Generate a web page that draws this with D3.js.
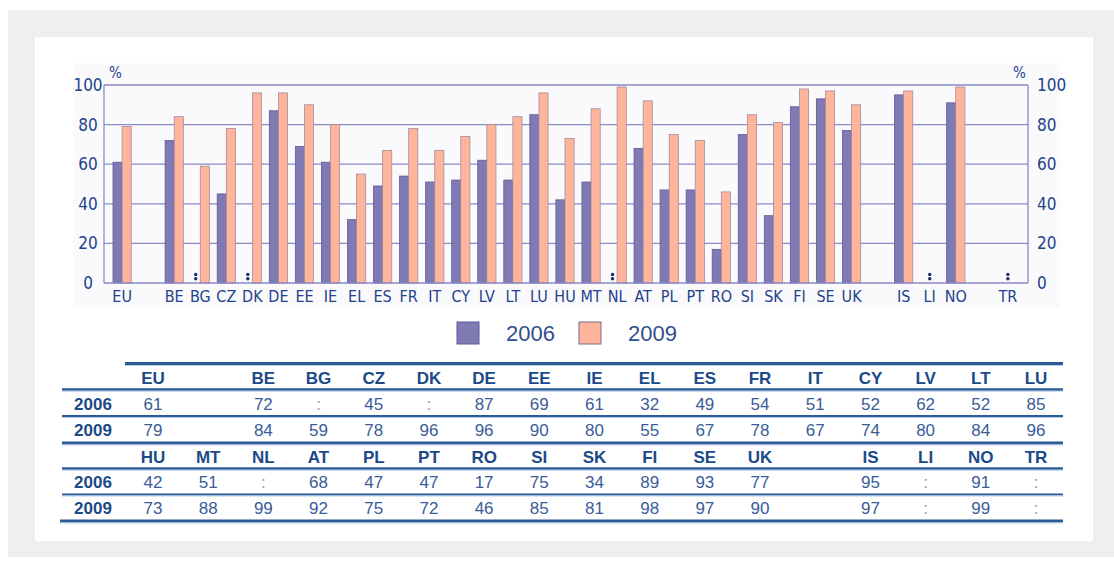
<!DOCTYPE html>
<html>
<head>
<meta charset="utf-8">
<script src="https://cdn.jsdelivr.net/npm/d3@7"></script>
<style>
  body { margin: 0; background: #fff; }
  svg { display: block; }
</style>
</head>
<body>
<script>
// countries in chart order
var categories = ["EU","BE","BG","CZ","DK","DE","EE","IE","EL","ES","FR","IT","CY","LV","LT","LU",
                  "HU","MT","NL","AT","PL","PT","RO","SI","SK","FI","SE","UK","IS","LI","NO","TR"];
// null = not available (":")
var values2006 = [61,72,null,45,null,87,69,61,32,49,54,51,52,62,52,85,
                  42,51,null,68,47,47,17,75,34,89,93,77,95,null,91,null];
var values2009 = [79,84,59,78,96,96,90,80,55,67,78,67,74,80,84,96,
                  73,88,99,92,75,72,46,85,81,98,97,90,97,null,99,null];
// an empty slot follows these in the chart
var gapsAfter = ["EU","UK","NO"];
var yTicks = [0,20,40,60,80,100];
var seriesNames = ["2006","2009"];
// table layout: two blocks of columns, "" = empty column
var tableRow1 = ["EU","","BE","BG","CZ","DK","DE","EE","IE","EL","ES","FR","IT","CY","LV","LT","LU"];
var tableRow2 = ["HU","MT","NL","AT","PL","PT","RO","SI","SK","FI","SE","UK","","IS","LI","NO","TR"];

var width = 1114, height = 565;
var purple = "#7f7ab4", salmon = "#ffb59b", navy = "#22428a", grid = "#8a8ac6";
var narrow = "'Liberation Sans Narrow', 'Arial Narrow', 'DejaVu Sans Condensed', sans-serif";
var arial = "'Liberation Sans', Arial, sans-serif";

var svg = d3.select("body").append("svg")
    .attr("width", width)
    .attr("height", height);

// frame
svg.append("rect").attr("x", 8).attr("y", 10).attr("width", 1106).attr("height", 547).attr("fill", "#efefef");
svg.append("rect").attr("x", 35).attr("y", 37).attr("width", 1058).attr("height", 504).attr("fill", "#fff");
svg.append("rect").attr("x", 73).attr("y", 63).attr("width", 987).attr("height", 245).attr("fill", "#fafafd");

// slots with gaps
var slots = [];
categories.forEach(function(c) {
  slots.push(c);
  if (gapsAfter.indexOf(c) >= 0) slots.push("gap_" + c);
});

var left = 104, right = 1028;
var x = d3.scaleBand()
    .domain(slots)
    .range([113, 1017])
    .paddingInner(0.3)
    .paddingOuter(0);
var xs = d3.scaleBand()
    .domain(seriesNames)
    .range([0, x.bandwidth()]);
var y = d3.scaleLinear()
    .domain([0, 100])
    .range([283, 85]);

var g = svg.append("g");

// gridlines
g.selectAll("line.grid")
    .data(yTicks.filter(function(d) { return d > 0; }))
  .enter().append("line")
    .attr("x1", left).attr("x2", right)
    .attr("y1", function(d) { return y(d); })
    .attr("y2", function(d) { return y(d); })
    .attr("stroke", grid)
    .attr("stroke-width", 1.3);

// bars
var rows = categories.map(function(c, i) {
  return {cat: c, v: [values2006[i], values2009[i]]};
});
var bars = [];
rows.forEach(function(r) {
  seriesNames.forEach(function(s, j) {
    if (r.v[j] != null) bars.push({cat: r.cat, s: s, v: r.v[j]});
  });
});
g.selectAll("rect.bar")
    .data(bars)
  .enter().append("rect")
    .attr("x", function(d) { return x(d.cat) + xs(d.s); })
    .attr("y", function(d) { return y(d.v); })
    .attr("width", xs.bandwidth())
    .attr("height", function(d) { return y(0) - y(d.v); })
    .attr("fill", function(d) { return d.s === "2006" ? purple : salmon; })
    .attr("stroke", function(d) { return d.s === "2006" ? "#5f5b98" : "#a58a9c"; })
    .attr("stroke-width", 0.8);

// ":" markers for missing values
var missing = [];
rows.forEach(function(r) {
  if (r.v[0] == null && r.v[1] == null) missing.push(x(r.cat) + x.bandwidth() / 2);
  else if (r.v[0] == null) missing.push(x(r.cat) + xs("2006") + xs.bandwidth() / 2);
});
missing.forEach(function(cx) {
  [274.5, 278.8].forEach(function(cy) {
    g.append("circle").attr("cx", cx).attr("cy", cy).attr("r", 1.7).attr("fill", "#1a2a66");
  });
});

// axes
var axisY = d3.axisLeft(y).tickValues(yTicks).tickSize(0).tickPadding(0);
var ay = g.append("g").attr("transform", "translate(" + left + ",0)").call(axisY);
ay.select(".domain").attr("stroke", grid).attr("stroke-width", 1.3).attr("d", "M0," + y(100) + "V" + y(0));
ay.selectAll("text").attr("x", -16).attr("text-anchor", "middle")
    .attr("font-family", narrow).attr("font-size", 17).attr("fill", navy);

var axisYR = d3.axisRight(y).tickValues(yTicks).tickSize(0).tickPadding(9);
var ayr = g.append("g").attr("transform", "translate(" + right + ",0)").call(axisYR);
ayr.select(".domain").attr("stroke", grid).attr("stroke-width", 1.3).attr("d", "M0," + y(100) + "V" + y(0));
ayr.selectAll("text").attr("font-family", narrow).attr("font-size", 17).attr("fill", navy);

g.append("line").attr("x1", left).attr("x2", right).attr("y1", y(0)).attr("y2", y(0))
    .attr("stroke", grid).attr("stroke-width", 1.3);

var axisX = d3.axisBottom(x).tickSize(0).tickPadding(8)
    .tickFormat(function(d) { return d.indexOf("gap_") === 0 ? "" : d; });
var ax = g.append("g").attr("transform", "translate(0," + y(0) + ")").call(axisX);
ax.select(".domain").remove();
ax.selectAll("text").attr("font-family", narrow).attr("font-size", 16).attr("fill", navy);

g.append("text").attr("x", 109).attr("y", 78).text("%")
    .attr("font-family", narrow).attr("font-size", 15).attr("fill", navy);
g.append("text").attr("x", 1013).attr("y", 78).text("%")
    .attr("font-family", narrow).attr("font-size", 15).attr("fill", navy);

// legend
var legendX = d3.scaleOrdinal().domain(seriesNames).range([457, 579]);
var lg = svg.append("g").selectAll("g").data(seriesNames).enter().append("g");
lg.append("rect")
    .attr("x", function(d) { return legendX(d); })
    .attr("y", 322).attr("width", 22).attr("height", 22)
    .attr("fill", function(d) { return d === "2006" ? purple : salmon; })
    .attr("stroke", function(d) { return d === "2006" ? "#5f5b98" : "#7d6a88"; })
    .attr("stroke-width", 1);
lg.append("text")
    .attr("x", function(d) { return legendX(d) + 49; })
    .attr("y", 341)
    .text(function(d) { return d; })
    .attr("font-family", arial).attr("font-size", 22).attr("fill", "#2f4f8c");

// table
var t = svg.append("g");
var col = d3.scalePoint().domain(d3.range(17)).range([153, 1036]);
var lineC = "#2b5a97";
function hline(x1, yy, w) {
  t.append("line").attr("x1", x1).attr("x2", 1063).attr("y1", yy).attr("y2", yy)
      .attr("stroke", lineC).attr("stroke-width", w);
  t.append("line").attr("x1", x1).attr("x2", 1063).attr("y1", yy + w / 2 + 0.5).attr("y2", yy + w / 2 + 0.5)
      .attr("stroke", "#b9cfe6").attr("stroke-width", 1);
}
function block(names, top, yHead, y6, y9) {
  names.forEach(function(c, i) {
    if (!c) return;
    var k = categories.indexOf(c);
    t.append("text").attr("x", col(i)).attr("y", yHead).text(c)
        .attr("text-anchor", "middle").attr("dominant-baseline", "central")
        .attr("font-family", arial).attr("font-weight", "bold").attr("font-size", 17).attr("fill", "#1c4a88");
    [[y6, values2006[k]], [y9, values2009[k]]].forEach(function(p) {
      t.append("text").attr("x", col(i)).attr("y", p[0])
          .text(p[1] == null ? ":" : p[1])
          .attr("text-anchor", "middle").attr("dominant-baseline", "central")
          .attr("font-family", arial).attr("font-size", 17)
          .attr("fill", p[1] == null ? "#8a9cc0" : "#3a5c98");
    });
  });
  [[y6, "2006"], [y9, "2009"]].forEach(function(p) {
    t.append("text").attr("x", 93).attr("y", p[0]).text(p[1])
        .attr("text-anchor", "middle").attr("dominant-baseline", "central")
        .attr("font-family", arial).attr("font-weight", "bold").attr("font-size", 17).attr("fill", "#1c4a88");
  });
}
hline(125, 363.5, 3);
hline(62, 389.5, 2.5);
hline(62, 416, 2);
hline(62, 443, 3);
hline(62, 468.5, 2.5);
hline(62, 494.5, 2);
hline(60, 521, 3);
block(tableRow1, 363, 378, 404, 430);
block(tableRow2, 443, 457, 482, 508);
</script>
</body>
</html>
